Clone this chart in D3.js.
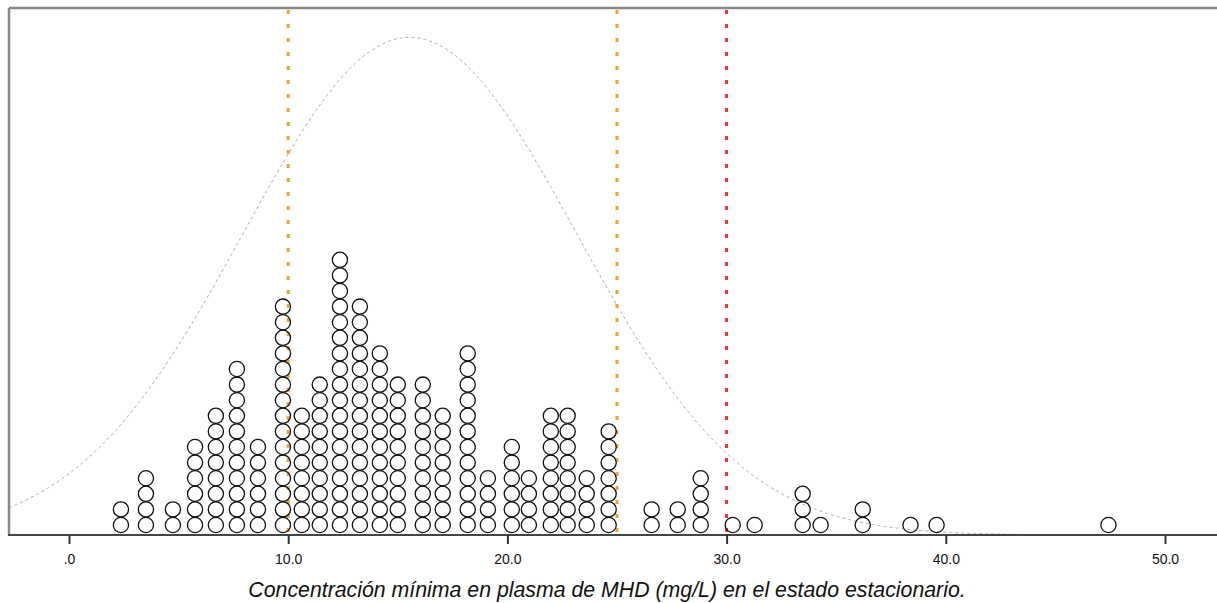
<!DOCTYPE html>
<html>
<head>
<meta charset="utf-8">
<script src="https://cdn.jsdelivr.net/npm/d3@7/dist/d3.min.js"></script>
<style>
html,body{margin:0;padding:0;background:#fff;}
svg{display:block;}
</style>
</head>
<body>
<svg id="chart" width="1217" height="603"></svg>
<script>
// Dot-plot columns: value (mg/L) and number of stacked dots
const dotValues = [2.37, 3.51, 4.74, 5.75, 6.70, 7.66, 8.62, 9.76, 10.62, 11.44, 12.36, 13.27, 14.18, 15.00, 16.14, 17.05, 18.19, 19.11, 20.20, 20.98, 21.98, 22.75, 23.62, 24.62, 26.58, 27.77, 28.82, 30.28, 31.28, 33.47, 34.29, 36.21, 38.39, 39.58, 47.42];
const dotCounts = [2, 4, 2, 6, 8, 11, 6, 15, 8, 10, 18, 15, 12, 10, 10, 8, 12, 4, 6, 4, 8, 8, 4, 7, 2, 2, 4, 1, 1, 3, 1, 2, 1, 1, 1];
// Reference lines
const refValues = [10, 25, 30];
const refColors = ["#f5a033", "#f5a033", "#ee3340"];
// Tick labels
const tickValues = [0, 10, 20, 30, 40, 50];
const tickLabels = [".0", "10.0", "20.0", "30.0", "40.0", "50.0"];
// Normal curve parameters (in dot-count units)
const curveMean = 15.55;
const curveSD = 7.6;
const curvePeak = 31.9;
const xTitle = "Concentración mínima en plasma de MHD (mg/L) en el estado estacionario.";

(function () {
const svg = d3.select("#chart");
const padL = 9, padT = 8, base = 535, edgeR = 1217;
const plotX = d3.scaleLinear().domain([0, 50]).range([69, 1165]);
// y in dot-count units
const y = d3.scaleLinear().domain([0, 1]).range([base, base - 15.6]);
const xmin = plotX.invert(padL), xmax = plotX.invert(edgeR);

// curve
const curvePts = d3.range(xmin, xmax + 0.05, 0.05).map(v => [v, curvePeak * Math.exp(-((v - curveMean) ** 2) / (2 * curveSD * curveSD))]);
svg.append("path")
  .attr("d", d3.line().x(d => plotX(d[0])).y(d => y(d[1]))(curvePts))
  .attr("fill", "none").attr("stroke", "#a8a8a8").attr("stroke-width", 1)
  .attr("stroke-dasharray", "3,3");

// reference lines
svg.selectAll(".ref").data(refValues).enter().append("line")
  .attr("x1", d => plotX(d)).attr("x2", d => plotX(d))
  .attr("y1", padT + 2).attr("y2", base)
  .attr("stroke", (d, i) => refColors[i]).attr("stroke-width", 3)
  .attr("stroke-dasharray", "4,10");

// dots
const dots = [];
dotValues.forEach((v, i) => { for (let k = 0; k < dotCounts[i]; k++) dots.push({ v, k }); });
svg.selectAll(".dot").data(dots).enter().append("circle")
  .attr("cx", d => plotX(d.v))
  .attr("cy", d => y(d.k + 0.64))
  .attr("r", 7.6)
  .attr("fill", "none").attr("stroke", "#111").attr("stroke-width", 1.3);

// frame
svg.append("line").attr("x1", padL).attr("x2", edgeR).attr("y1", padT).attr("y2", padT)
  .attr("stroke", "#888").attr("stroke-width", 2.5);
svg.append("line").attr("x1", padL).attr("x2", padL).attr("y1", padT).attr("y2", base)
  .attr("stroke", "#888").attr("stroke-width", 2.5);

// x axis
const axis = d3.axisBottom(plotX).tickValues(tickValues)
  .tickFormat((d, i) => tickLabels[i]).tickSize(9).tickSizeOuter(0);
const g = svg.append("g").attr("transform", `translate(0,${base})`).call(axis);
g.select(".domain").attr("d", `M${padL - 1},0H${edgeR}`).attr("stroke", "#444").attr("stroke-width", 2);
g.selectAll(".tick line").attr("stroke", "#333").attr("stroke-width", 2);
g.selectAll(".tick text").attr("font-family", "Liberation Sans, Arial, sans-serif")
  .attr("font-size", 14).attr("fill", "#111").attr("dy", "0.9em").attr("y", 16);

svg.append("text").attr("x", 607).attr("y", 597)
  .attr("text-anchor", "middle")
  .attr("font-family", "Liberation Sans, Arial, sans-serif")
  .attr("font-style", "italic").attr("font-size", 21.3).attr("fill", "#111")
  .text(xTitle);
})();
</script>
</body>
</html>
